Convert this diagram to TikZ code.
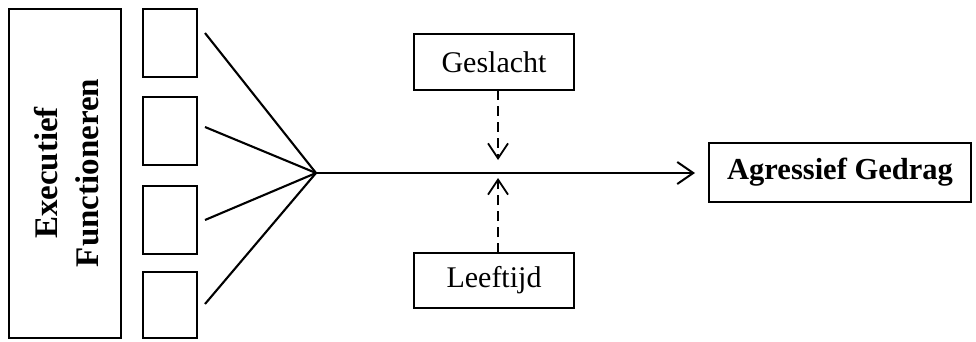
\documentclass[tikz,border=0pt]{standalone}
\usepackage{fontspec}
\setmainfont{Liberation Serif}
\usetikzlibrary{arrows.meta}
\begin{document}
\begin{tikzpicture}[x=1pt,y=-1pt,
  boxstyle/.style={draw=black, line width=1.6pt, inner sep=0pt, anchor=center},
  fanline/.style={line width=2.1pt},
  mainarrow/.style={line width=2.2pt, -{Straight Barb[length=16pt,width=22pt,line width=2pt]}},
  modarrow/.style={line width=1.9pt, dash pattern=on 10pt off 6pt, -{Straight Barb[length=15pt,width=20pt,line width=1.8pt]}},
  txt/.style={font=\fontsize{30}{36}\selectfont}
]
\useasboundingbox (0,0) rectangle (976,341);
% big box
\node[boxstyle, minimum width=112pt, minimum height=329pt] (ef) at (65,173.5) {};
\node[rotate=90, align=center, font=\bfseries\fontsize{33}{41}\selectfont] (eftxt) at (67,173) {Executief\\Functioneren};
% small boxes
\node[boxstyle, minimum width=54pt, minimum height=68pt] (s1) at (170,43) {};
\node[boxstyle, minimum width=54pt, minimum height=68pt] (s2) at (170,131) {};
\node[boxstyle, minimum width=54pt, minimum height=68pt] (s3) at (170,220) {};
\node[boxstyle, minimum width=54pt, minimum height=66pt] (s4) at (170,305) {};
% fan
\coordinate (f1) at (205,33);
\coordinate (f2) at (205,127);
\coordinate (f3) at (205,220);
\coordinate (f4) at (205,304);
\coordinate (hub) at (316,173);
\draw[fanline] (f1) -- (hub);
\draw[fanline] (f2) -- (hub);
\draw[fanline] (f3) -- (hub);
\draw[fanline] (f4) -- (hub);
% outcome
\node[boxstyle, minimum width=262pt, minimum height=59pt, font=\bfseries\fontsize{30.5}{36}\selectfont] (ag) at (840,172.5) {Agressief Gedrag};
\coordinate (tip) at (695,173);
\draw[mainarrow] (hub) -- (tip);
% moderators
\node[boxstyle, minimum width=160pt, minimum height=56pt, txt] (ges) at (494,62) {Geslacht};
\node[boxstyle, minimum width=160pt, minimum height=55pt, txt] (lft) at (494,280.5) {Leeftijd};
\coordinate (gtop) at (498,90);
\coordinate (gtip) at (498,160);
\coordinate (lbot) at (498,253);
\coordinate (ltip) at (498,178);
\draw[modarrow] (gtop) -- (gtip);
\draw[modarrow] (lbot) -- (ltip);
\end{tikzpicture}
\end{document}
